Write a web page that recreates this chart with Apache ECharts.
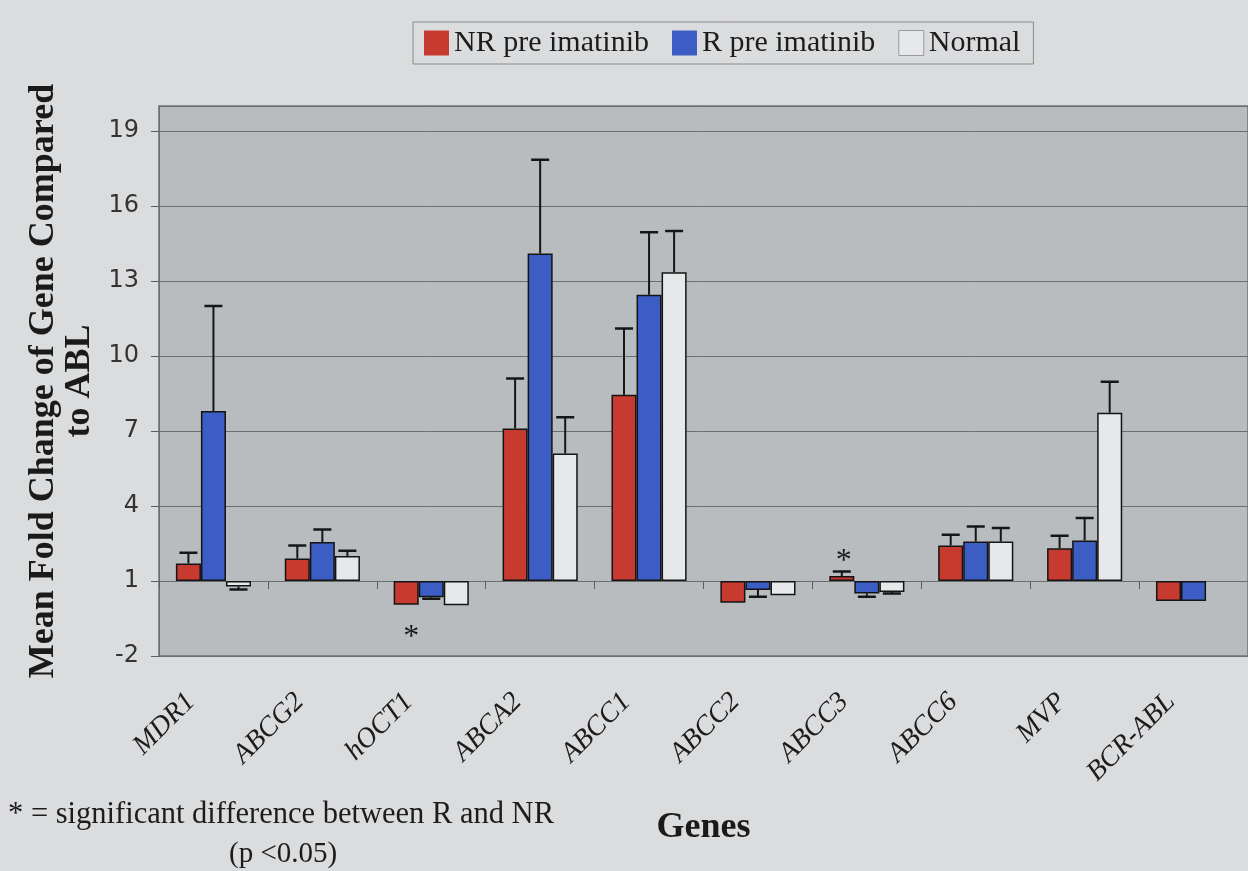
<!DOCTYPE html>
<html>
<head>
<meta charset="utf-8">
<script src="https://cdn.jsdelivr.net/npm/echarts@6/dist/echarts.min.js"></script>
<style>
  html, body { margin: 0; padding: 0; background: #dbdcde; }
  #chart { width: 1248px; height: 871px; }
</style>
</head>
<body>
<div id="chart"></div>
<script>
// Genes on the category axis
const genes = ['MDR1', 'ABCG2', 'hOCT1', 'ABCA2', 'ABCC1', 'ABCC2', 'ABCC3', 'ABCC6', 'MVP', 'BCR-ABL'];
const seriesNames = ['NR pre imatinib', 'R pre imatinib', 'Normal'];

// Mean fold change (relative to ABL) and its error, per group
const nrMean     = [1.70, 1.90, 0.05, 7.10, 8.45, 0.13, 1.20, 2.42, 2.31, 0.20];
const nrErr      = [0.43, 0.52, null, 2.00, 2.65, null, 0.18, 0.43, 0.50, null];
const rMean      = [7.80, 2.56, 0.35, 14.10, 12.45, 0.64, 0.50, 2.58, 2.62, 0.20];
const rErr       = [4.20, 0.50, 0.06, 3.75, 2.50, 0.27, 0.13, 0.60, 0.90, null];
const normalMean = [0.78, 2.00, 0.03, 6.10, 13.35, 0.43, 0.56, 2.58, 7.73, null];
const normalErr  = [0.12, 0.21, null, 1.45, 1.65, null, 0.06, 0.54, 1.24, null];

// Genes with a significant R vs NR difference (starred on the NR bar)
const significantGenes = ['hOCT1', 'ABCC3'];

// Value axis: bars grow from the fold-change baseline of 1
const baseline = 1;
const yMin = -2, yMax = 20, yStep = 3;

const colors = ['#c73a30', '#3b5dc4', '#e7e8ea'];
const means = [nrMean, rMean, normalMean];
const errs = [nrErr, rErr, normalErr];
const gapRatio = 0.31;

function barData(k) {
  return means[k].map((v, i) => {
    if (v == null) return '-';
    const item = { value: v - baseline };
    if (k === 0 && significantGenes.indexOf(genes[i]) >= 0) {
      const below = v < baseline;
      item.label = {
        show: true,
        formatter: '*',
        position: below ? 'bottom' : 'top',
        distance: below ? 17 : -2,
        offset: [below ? 5 : 2, 0],
        fontFamily: 'Liberation Serif',
        fontSize: 32,
        color: '#1a1a1a'
      };
    }
    return item;
  });
}

function errData(k) {
  const out = [];
  means[k].forEach((v, i) => {
    const e = errs[k][i];
    if (v == null || e == null) return;
    const end = v >= baseline ? v + e : v - e;
    out.push([i, v - baseline, end - baseline]);
  });
  return out;
}

function errSeries(k) {
  return {
    type: 'custom',
    name: seriesNames[k] + ' error',
    xAxisIndex: 0,
    z: 5,
    silent: true,
    data: errData(k),
    renderItem: function (params, api) {
      const idx = api.value(0);
      const p0 = api.coord([idx, api.value(1)]);
      const p1 = api.coord([idx, api.value(2)]);
      const band = api.size([1, 0])[0];
      const barW = band * (1 - gapRatio) / 3;
      const x = p0[0] + (k - 1) * barW;
      const cap = barW * 0.36;
      return {
        type: 'group',
        children: [
          { type: 'line', shape: { x1: x, y1: p0[1], x2: x, y2: p1[1] },
            style: { stroke: '#161616', lineWidth: 2 } },
          { type: 'line', shape: { x1: x - cap, y1: p1[1], x2: x + cap, y2: p1[1] },
            style: { stroke: '#161616', lineWidth: 2.5 } }
        ]
      };
    }
  };
}

const chart = echarts.init(document.getElementById('chart'), null, { renderer: 'canvas' });

const barSeries = seriesNames.map((name, k) => ({
  type: 'bar',
  name: name,
  xAxisIndex: 0,
  data: barData(k),
  barGap: '0%',
  barCategoryGap: (gapRatio * 100) + '%',
  itemStyle: { color: colors[k], borderColor: '#141414', borderWidth: 1.5 },
  emphasis: { disabled: true }
}));

chart.setOption({
  backgroundColor: '#dbdcde',
  animation: false,
  legend: {
    left: 413,
    top: 22,
    icon: 'rect',
    itemWidth: 25,
    itemHeight: 25,
    itemGap: 23,
    padding: [6, 13, 6, 11],
    borderColor: '#8a8a8a',
    borderWidth: 1,
    textStyle: { fontFamily: 'Liberation Serif', fontSize: 30, color: '#1c1c1c' },
    itemStyle: { borderWidth: 0 },
    data: [
      { name: seriesNames[0] },
      { name: seriesNames[1] },
      { name: seriesNames[2], itemStyle: { borderColor: '#9a9a9a', borderWidth: 1 } }
    ]
  },
  grid: {
    left: 159,
    top: 106,
    right: -16,
    bottom: 215,
    show: true,
    backgroundColor: '#b8bcbf',
    borderColor: '#707274',
    borderWidth: 1.5
  },
  xAxis: [
    {
      type: 'category',
      data: genes,
      position: 'bottom',
      axisLine: { onZero: true, lineStyle: { color: '#6a6d70', width: 1 } },
      axisTick: { show: true, length: 8, lineStyle: { color: '#5a5d60', width: 1 } },
      axisLabel: { show: false }
    },
    {
      type: 'category',
      data: genes,
      position: 'bottom',
      axisLine: { show: false, onZero: false },
      axisTick: { show: false },
      axisLabel: {
        rotate: 45,
        margin: 19,
        interval: 0,
        padding: [0, 32, 0, 0],
        fontFamily: 'Liberation Serif',
        fontStyle: 'italic',
        fontSize: 28,
        color: '#1c1c1c'
      },
      name: 'Genes',
      nameLocation: 'middle',
      nameGap: 154,
      nameTextStyle: { fontFamily: 'Liberation Serif', fontWeight: 'bold', fontSize: 36, color: '#1a1a1a' }
    }
  ],
  yAxis: {
    type: 'value',
    min: yMin - baseline,
    max: yMax - baseline,
    interval: yStep,
    axisLine: { show: true, lineStyle: { color: '#6a6d70', width: 1 } },
    axisTick: { show: true, length: 8, lineStyle: { color: '#5a5d60' } },
    axisLabel: {
      showMaxLabel: false,
      margin: 20,
      fontFamily: 'DejaVu Sans',
      fontSize: 24,
      color: '#333',
      formatter: v => String(Math.round(v + baseline))
    },
    splitLine: { lineStyle: { color: '#6c6f72', width: 1 } },
    name: 'Mean Fold Change of Gene Compared\nto ABL',
    nameLocation: 'middle',
    nameRotate: 90,
    nameGap: 60,
    nameTextStyle: {
      fontFamily: 'Liberation Serif',
      fontWeight: 'bold',
      fontSize: 36,
      lineHeight: 36,
      color: '#1a1a1a',
      align: 'center'
    }
  },
  graphic: [
    {
      type: 'text',
      left: 8,
      top: 799,
      style: {
        text: '* = significant difference between R and NR',
        font: '30.5px "Liberation Serif"',
        fill: '#1c1c1c'
      }
    },
    {
      type: 'text',
      left: 229,
      top: 840,
      style: {
        text: '(p <0.05)',
        font: '29px "Liberation Serif"',
        fill: '#1c1c1c'
      }
    }
  ],
  series: barSeries.concat([0, 1, 2].map(errSeries))
});
</script>
</body>
</html>
